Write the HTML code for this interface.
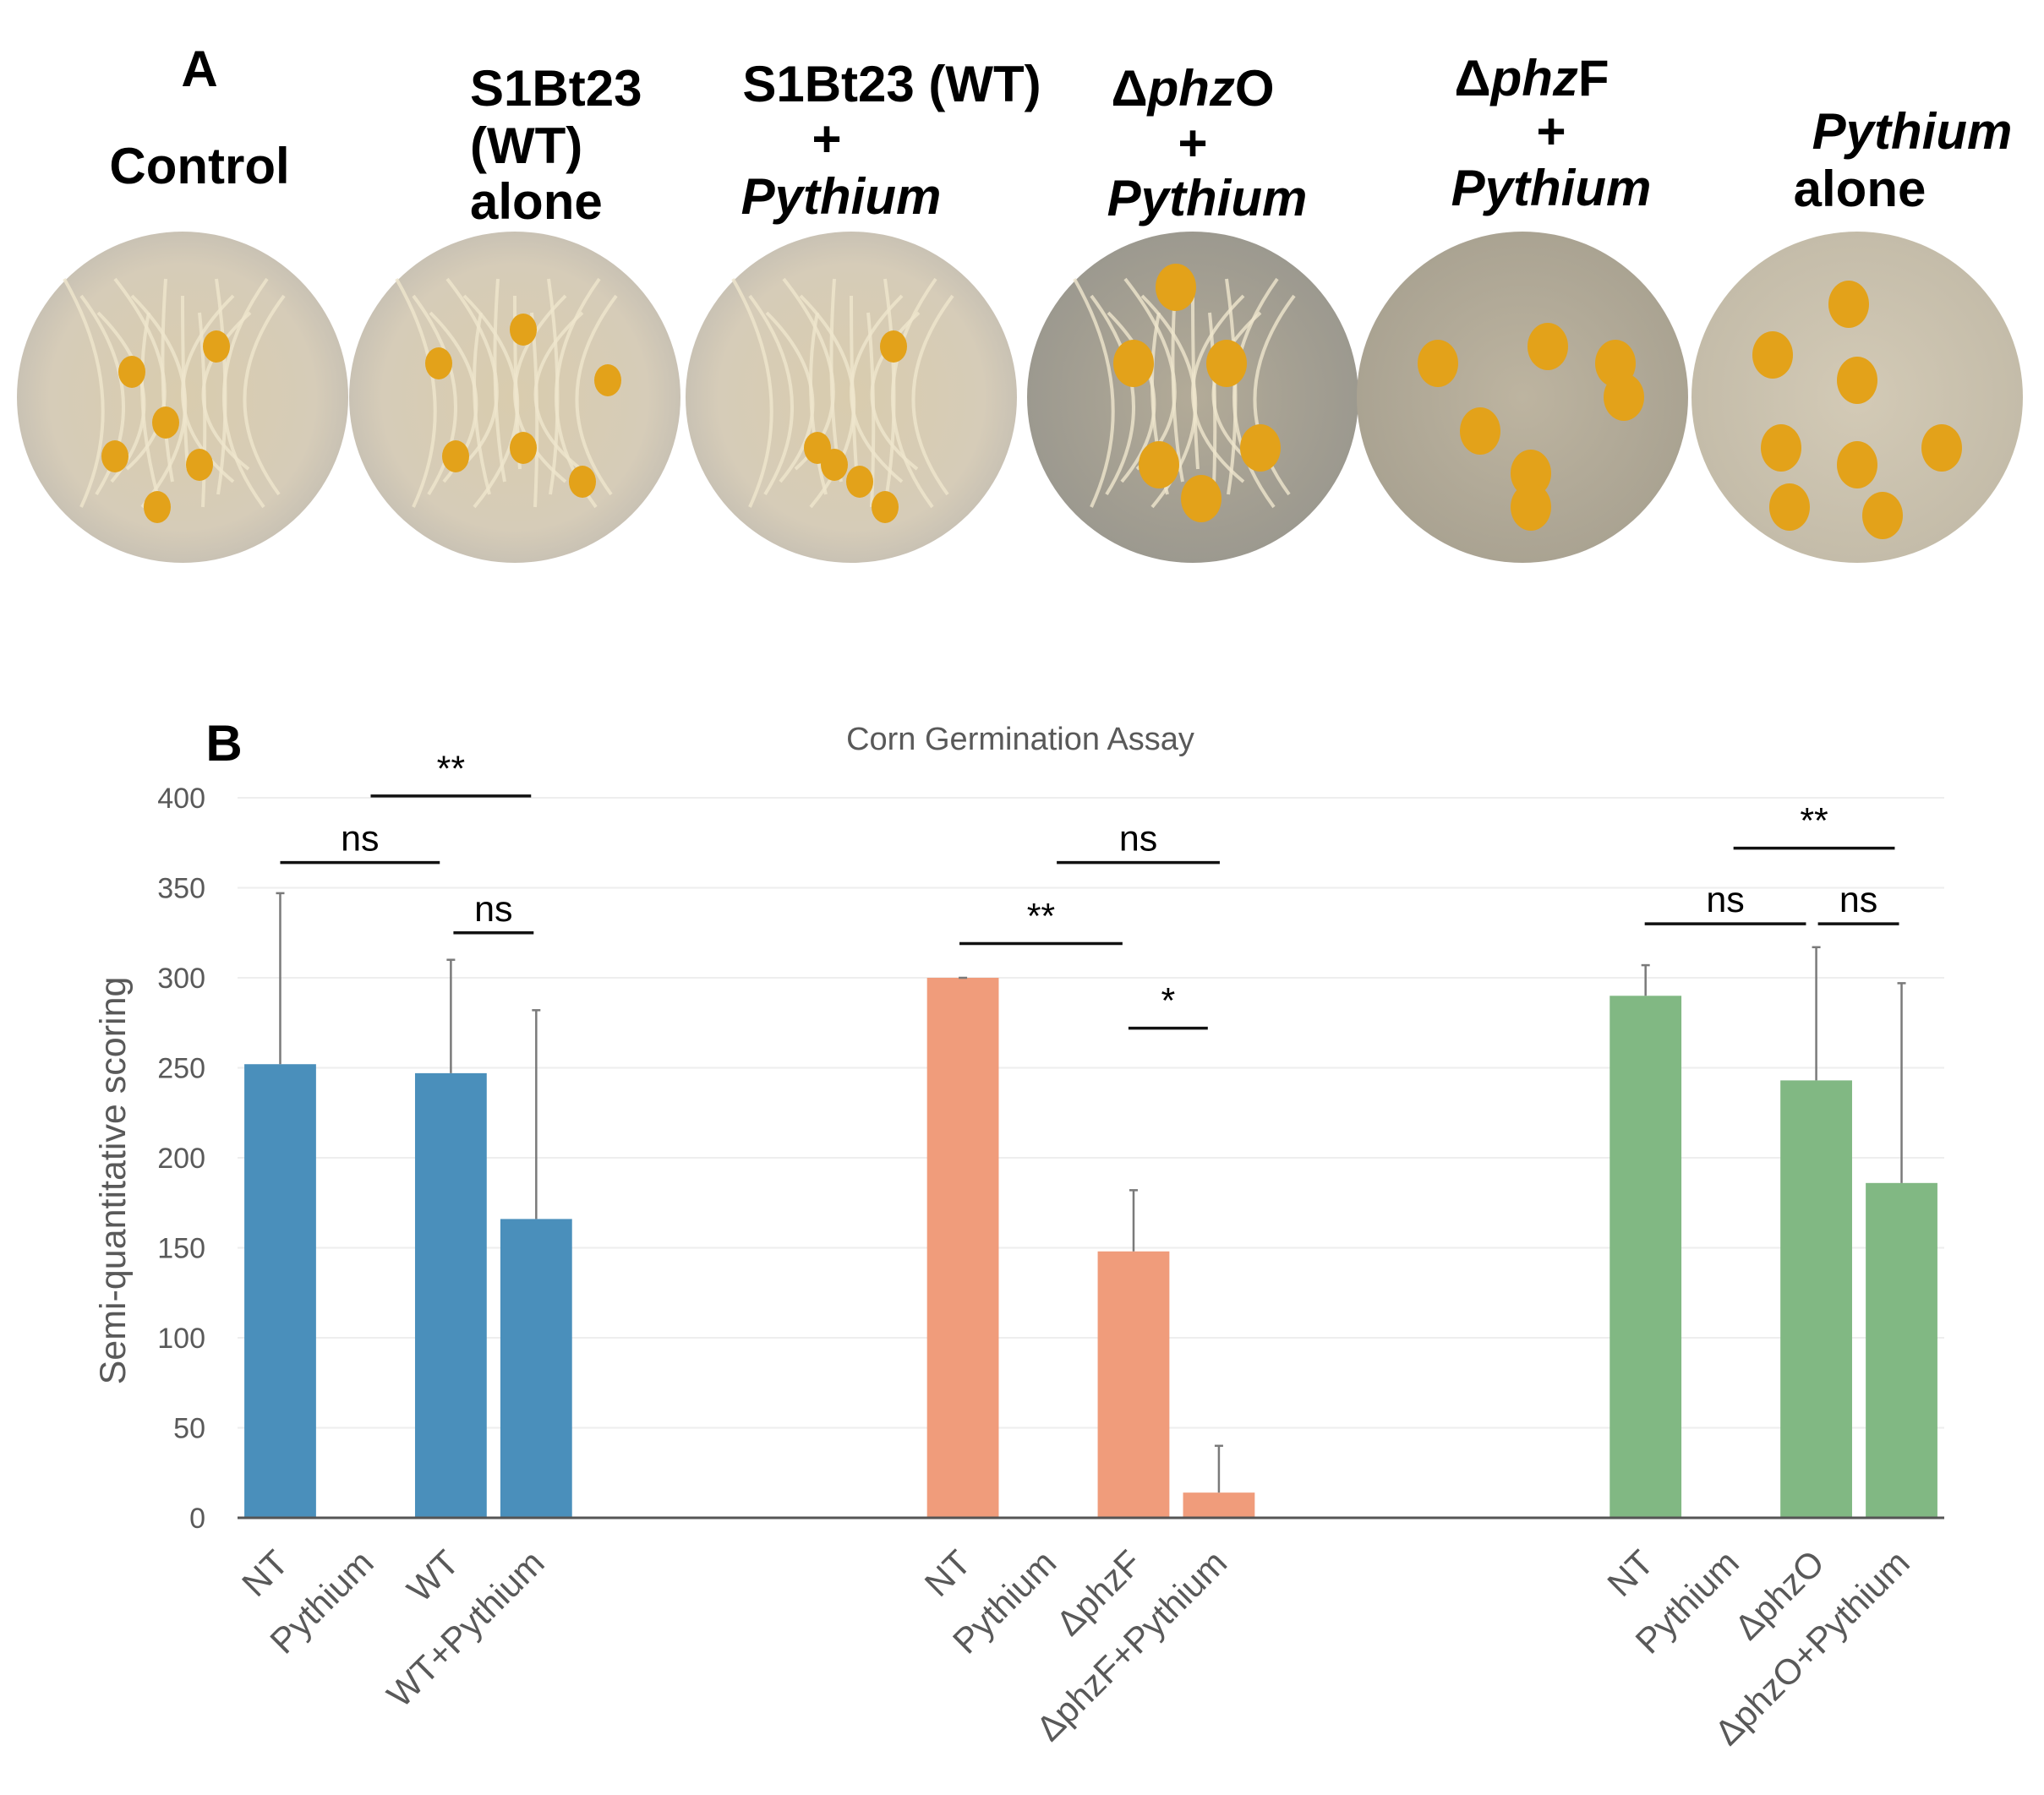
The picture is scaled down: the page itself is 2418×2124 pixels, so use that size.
<!DOCTYPE html>
<html><head><meta charset="utf-8"><style>
html,body{margin:0;padding:0;background:#fff;}
svg{display:block;}
.lab{font-family:"Liberation Sans",sans-serif;font-weight:bold;font-size:60px;fill:#000;}
.it{font-style:italic;}
.tick{font-family:"Liberation Sans",sans-serif;font-size:34px;fill:#595959;}
.xl{font-family:"Liberation Sans",sans-serif;font-size:42px;fill:#595959;}
.sig{font-family:"Liberation Sans",sans-serif;font-size:43px;fill:#000;}
</style></head><body>
<svg id="fig" width="2418" height="2124" viewBox="0 0 2418 2124" xmlns="http://www.w3.org/2000/svg">
<defs>
<radialGradient id="g1" cx="50%" cy="50%" r="50%"><stop offset="0" stop-color="#d9ccae"/><stop offset="0.8" stop-color="#d6ccb8"/><stop offset="1" stop-color="#c9c2b4"/></radialGradient>
<radialGradient id="g2" cx="50%" cy="50%" r="50%"><stop offset="0" stop-color="#b3ab98"/><stop offset="1" stop-color="#9c998f"/></radialGradient>
<radialGradient id="g3" cx="50%" cy="50%" r="50%"><stop offset="0" stop-color="#bdb4a0"/><stop offset="1" stop-color="#aaa392"/></radialGradient>
<radialGradient id="g4" cx="50%" cy="50%" r="50%"><stop offset="0" stop-color="#d3cab6"/><stop offset="1" stop-color="#c4bca9"/></radialGradient>
</defs>
<g>
<text class="lab" x="236" y="102" text-anchor="middle" font-size="100">A</text>
<text class="lab" x="236" y="217" text-anchor="middle">Control</text>
<g>
<text class="lab" x="556" y="125">S1Bt23</text>
<text class="lab" x="556" y="193">(WT)</text>
<text class="lab" x="556" y="259">alone</text></g>
<g>
<text class="lab" x="1055" y="120" text-anchor="middle">S1Bt23 (WT)</text>
<text class="lab" x="978" y="185" text-anchor="middle">+</text>
<text class="lab it" x="995" y="253" text-anchor="middle">Pythium</text></g>
<g>
<text class="lab" x="1411" y="125" text-anchor="middle">Δ<tspan class="it">phz</tspan>O</text>
<text class="lab" x="1411" y="190" text-anchor="middle">+</text>
<text class="lab it" x="1428" y="255" text-anchor="middle">Pythium</text></g>
<g>
<text class="lab" x="1812" y="113" text-anchor="middle">Δ<tspan class="it">phz</tspan>F</text>
<text class="lab" x="1835" y="176" text-anchor="middle">+</text>
<text class="lab it" x="1835" y="243" text-anchor="middle">Pythium</text></g>
<g>
<text class="lab it" x="2262" y="176" text-anchor="middle">Pythium</text>
<text class="lab" x="2200" y="244" text-anchor="middle">alone</text></g>
<g id="photos"></g>
</g>
<text class="lab" x="265" y="900" text-anchor="middle" font-size="90">B</text>
<text x="1207" y="887" text-anchor="middle" font-family="Liberation Sans, sans-serif" font-size="38" fill="#595959">Corn Germination Assay</text>
<text transform="translate(148,1397) rotate(-90)" text-anchor="middle" font-family="Liberation Sans, sans-serif" font-size="43" fill="#595959">Semi-quantitative scoring</text>
<g id="chart"></g>
</svg>
<script>
const categories=["NT","Pythium","WT","WT+Pythium","","","","","NT","Pythium","ΔphzF","ΔphzF+Pythium","","","","","NT","Pythium","ΔphzO","ΔphzO+Pythium"];
const values=[252,0,247,166,null,null,null,null,300,0,148,14,null,null,null,null,290,0,243,186];
const errTops=[347,null,310,282,null,null,null,null,300,null,182,40,null,null,null,null,307,null,317,297];
const yTicks=[0,50,100,150,200,250,300,350,400];
const sigLabels=["ns","**","ns","**","ns","*","**","ns","ns"];
const sigLevels=[364,401,325,319,364,272,372,330,330];
const sigFrom=[0,1.06,2.03,7.96,9.1,9.94,17.03,15.99,18.02];
const sigTo=[1.87,2.94,2.97,9.87,11.01,10.87,18.92,17.88,18.97];
const ns="http://www.w3.org/2000/svg";
const X0=281,X1=2300,Y0=1796,Y400=944;
const slot=(X1-X0)/categories.length;
const xc=i=>X0+slot*(i+0.5);
const y=v=>Y0-(v/400)*(Y0-Y400);
const colors=["#4a8fbb","#f09c7b","#81b883"];
const chart=document.getElementById('chart');
function mk(tag,attrs,parent){const e=document.createElementNS(ns,tag);for(const k in attrs)e.setAttribute(k,attrs[k]);(parent||chart).appendChild(e);return e;}
yTicks.forEach(t=>{
  const l=mk('line',{x1:X0,x2:X1,y1:y(t),y2:y(t),stroke:'#eeeeee','stroke-width':2});
  
  
  const tx=mk('text',{x:243,y:y(t)+12,'text-anchor':'end',class:'tick'});
  tx.textContent=t;
  
  
});
values.forEach((v,i)=>{
  if(v===null||v===0)return;
  const c=colors[Math.floor(i/8)];
  const bw=slot*0.84;
  const r=mk('rect',{x:xc(i)-bw/2,y:y(v),width:bw,height:Y0-y(v),fill:c});
  
  
});
errTops.forEach((e,i)=>{
  if(e===null)return;
  const x=xc(i);
  const l=mk('line',{x1:x,x2:x,y1:y(values[i]),y2:y(e),stroke:'#7a7a7a','stroke-width':2.5});
  
  
  mk('line',{x1:x-5,x2:x+5,y1:y(e),y2:y(e),stroke:'#7a7a7a','stroke-width':2.5});
});
const ax=mk('line',{x1:X0,x2:X1,y1:Y0,y2:Y0,stroke:'#555','stroke-width':3});


categories.forEach((c,i)=>{
  if(!c)return;
  const t=mk('text',{transform:`translate(${xc(i)+12},${Y0+56}) rotate(-45)`,'text-anchor':'end',class:'xl'});
  t.textContent=c;
  
  
});
sigLabels.forEach((s,k)=>{
  const x1=xc(sigFrom[k]),x2=xc(sigTo[k]),yy=y(sigLevels[k]);
  const l=mk('line',{x1:x1,x2:x2,y1:yy,y2:yy,stroke:'#111','stroke-width':3.5});
  
  
  const t=mk('text',{x:(x1+x2)/2,y:yy-(s==='ns'?14:18),'text-anchor':'middle',class:'sig'});
  t.textContent=s;
  
  
});
const ph=document.getElementById('photos');
const cx=[216,609,1007,1411,1801,2197],fills=['url(#g1)','url(#g1)','url(#g1)','url(#g2)','url(#g3)','url(#g4)'];
const seeds=[[[-60,-30],[-80,70],[-20,30],[20,80],[-30,130],[40,-60]],[[-90,-40],[10,-80],[110,-20],[-70,70],[10,60],[80,100]],[[50,-60],[-20,80],[10,100],[40,130],[-40,60]],[[-20,-130],[-70,-40],[40,-40],[80,60],[-40,80],[10,120]],[[-100,-40],[30,-60],[110,-40],[120,0],[-50,40],[10,90],[10,130]],[[-100,-50],[-10,-110],[0,-20],[-90,60],[0,80],[100,60],[-80,130],[30,140]]];
cx.forEach((x,k)=>{
  const c=mk('circle',{cx:x,cy:470,r:196,fill:fills[k]},ph);
  
  
  if(k<4){for(let j=0;j<14;j++){mk('path',{d:`M${x-140+j*20} ${330+(j%3)*20} Q${x+(j%5)*30-60} ${470} ${x-120+j*18} ${600-(j%4)*15}`,stroke:'#efe6cd','stroke-width':4,fill:'none',opacity:0.8},ph);}}
  seeds[k].forEach(s=>mk('ellipse',{cx:x+s[0],cy:470+s[1],rx:k>=3?24:16,ry:k>=3?28:19,fill:'#e3a21a'},ph));
});
</script>
</body></html>
